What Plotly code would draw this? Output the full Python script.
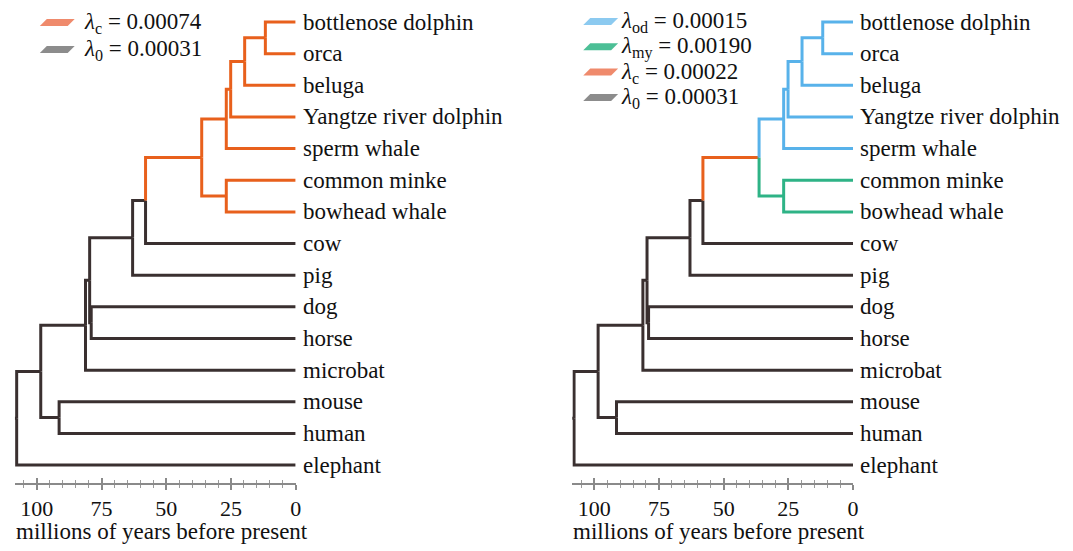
import plotly.graph_objects as go

# ---------------- data ----------------
leaves = ["bottlenose dolphin", "orca", "beluga", "Yangtze river dolphin", "sperm whale",
          "common minke", "bowhead whale", "cow", "pig", "dog", "horse", "microbat",
          "mouse", "human", "elephant"]

# internal nodes: name, age (Myr), children (top to bottom)
node_names = ["bo_orca", "beluga_grp", "yangtze_grp", "odontoceti", "mysticeti", "cetacea",
              "cet_cow", "artiodactyla", "dog_horse", "fereuungulata", "laurasiatheria",
              "euarchontoglires", "boreoeutheria", "root"]
node_ages = [11.7, 19.7, 25.1, 26.8, 26.8, 36.3, 58.0, 63.0, 79.0, 79.6, 81.2, 91.4, 98.5, 107.8]
node_children = [
    ["bottlenose dolphin", "orca"],
    ["bo_orca", "beluga"],
    ["beluga_grp", "Yangtze river dolphin"],
    ["yangtze_grp", "sperm whale"],
    ["common minke", "bowhead whale"],
    ["odontoceti", "mysticeti"],
    ["cetacea", "cow"],
    ["cet_cow", "pig"],
    ["dog", "horse"],
    ["artiodactyla", "dog_horse"],
    ["fereuungulata", "microbat"],
    ["mouse", "human"],
    ["laurasiatheria", "euarchontoglires"],
    ["boreoeutheria", "elephant"],
]
root_stub_age = 108.8

# rate regimes (clades whose stem branch starts the regime)
left_regime_roots = {"cetacea": "c"}
right_regime_roots = {"cetacea": "c", "odontoceti": "od", "mysticeti": "my"}

left_legend = [("c", "0.00074"), ("0", "0.00031")]
right_legend = [("od", "0.00015"), ("my", "0.00190"), ("c", "0.00022"), ("0", "0.00031")]

tick_vals = [100, 75, 50, 25, 0]
tick_text = ["100", "75", "50", "25", "0"]

# ---------------- styles ----------------
line_colors = {"0": "#3a3030", "c": "#e8601c", "od": "#58b2ea", "my": "#2eb386"}
swatch_colors = {"0": "#8c8c8c", "c": "#ef8a6c", "od": "#8ccaf0", "my": "#4cbf96"}
FONT = "Liberation Serif, Times, serif"
OFF = 8                       # page body margin
W, H = 1073 - OFF, 551 - OFF  # figure size


def px(x):
    return (x - OFF) / W


def py(y):
    return 1 - (y - OFF) / H


# ---------------- tree layout ----------------
ages = {n: a for n, a in zip(node_names, node_ages)}
children = {n: c for n, c in zip(node_names, node_children)}
for lf in leaves:
    ages[lf] = 0.0
ypos = {lf: i for i, lf in enumerate(leaves)}


def get_y(n):
    if n in ypos:
        return ypos[n]
    ys = [get_y(c) for c in children[n]]
    ypos[n] = (ys[0] + ys[-1]) / 2
    return ypos[n]


get_y("root")


def segments(regime_roots):
    segs = {}

    def walk(n, regime):
        for c in children.get(n, []):
            r = regime_roots.get(c, regime)
            xs, ys = segs.setdefault(r, ([], []))
            xs += [ages[n], ages[n], ages[c], None]
            ys += [ypos[n], ypos[c], ypos[c], None]
            walk(c, r)

    xs, ys = segs.setdefault("0", ([], []))
    xs += [root_stub_age, ages["root"], None]
    ys += [ypos["root"], ypos["root"], None]
    walk("root", "0")
    return segs


fig = go.Figure()

panels = [
    dict(xa="x", ya="y", dom=(15, 297), regimes=left_regime_roots, legend=left_legend,
         sw_x=40, txt_x=82, leg_y0=22, leg_dy=27),
    dict(xa="x2", ya="y2", dom=(575, 857), regimes=right_regime_roots, legend=right_legend,
         sw_x=586, txt_x=622, leg_y0=21, leg_dy=25.3),
]

px_per_unit = 31.65
y_top_px = 22
axis_px = 483
y_lo = 14 + (axis_px - (y_top_px + 14 * px_per_unit)) / px_per_unit
y_hi = -(y_top_px - OFF) / px_per_unit

annotations = []
shapes = []
for k, p in enumerate(panels):
    segs = segments(p["regimes"])
    for r in ["0", "c", "my", "od"]:
        if r in segs:
            xs, ys = segs[r]
            fig.add_trace(go.Scatter(x=xs, y=ys, mode="lines", xaxis=p["xa"], yaxis=p["ya"],
                                     line=dict(color=line_colors[r], width=3),
                                     hoverinfo="skip", showlegend=False))
    # leaf labels
    for lf in leaves:
        annotations.append(dict(x=0, y=ypos[lf], xref=p["xa"], yref=p["ya"], text=lf,
                                showarrow=False, xanchor="left", yanchor="middle", xshift=5,
                                font=dict(family=FONT, size=23, color="#111")))
    # axis title
    annotations.append(dict(x=px(p["dom"][0] - 5 + (315 - 10) / 2), y=py(531),
                            xref="paper", yref="paper", text="millions of years before present",
                            showarrow=False, xanchor="center", yanchor="middle",
                            font=dict(family=FONT, size=23, color="#111")))
    # legend
    for j, (sub, val) in enumerate(p["legend"]):
        yc = p["leg_y0"] + j * p["leg_dy"]
        x0 = p["sw_x"]
        pts = [(x0, yc + 4), (x0 + 28, yc + 4), (x0 + 35, yc - 3), (x0 + 7, yc - 3)]
        path = "M " + " L ".join(f"{px(a):.5f},{py(b):.5f}" for a, b in pts) + " Z"
        shapes.append(dict(type="path", path=path, xref="paper", yref="paper",
                           fillcolor=swatch_colors[sub], line=dict(width=0)))
        annotations.append(dict(x=px(p["txt_x"]), y=py(yc + 1), xref="paper", yref="paper",
                                text=f"<i>λ</i><sub>{sub}</sub> = {val}", showarrow=False,
                                xanchor="left", yanchor="middle",
                                font=dict(family=FONT, size=23, color="#111")))

rng = [(panels[0]["dom"][1] - panels[0]["dom"][0]) / 2.6, 0]

axis_common = dict(range=rng, showgrid=False, zeroline=False, showline=True, linecolor="#8a8a8a",
                   linewidth=1.5, tickmode="array", tickvals=tick_vals, ticktext=tick_text,
                   ticks="outside", ticklen=5, tickwidth=1.5, tickcolor="#8a8a8a",
                   tickfont=dict(family=FONT, size=22, color="#111"),
                   minor=dict(dtick=5, tick0=0, ticks="outside", ticklen=3, tickwidth=1,
                              tickcolor="#9a9a9a", showgrid=False),
                   fixedrange=True)
overlay_common = dict(range=rng, showgrid=False, zeroline=False, showline=False,
                      tickmode="array", tickvals=tick_vals, showticklabels=False,
                      ticks="inside", ticklen=5, tickwidth=1.5, tickcolor="#8a8a8a",
                      minor=dict(dtick=5, tick0=0, ticks="inside", ticklen=3, tickwidth=1,
                                 tickcolor="#9a9a9a", showgrid=False),
                      fixedrange=True)
yaxis_common = dict(range=[y_lo, y_hi], domain=[py(axis_px), 1], visible=False, fixedrange=True)

d0 = [px(panels[0]["dom"][0]), px(panels[0]["dom"][1])]
d1 = [px(panels[1]["dom"][0]), px(panels[1]["dom"][1])]

# invisible traces for overlay axes (upper half of crossing ticks)
fig.add_trace(go.Scatter(x=[0], y=[0], xaxis="x3", yaxis="y", mode="markers",
                         marker=dict(opacity=0), hoverinfo="skip", showlegend=False))
fig.add_trace(go.Scatter(x=[0], y=[0], xaxis="x4", yaxis="y2", mode="markers",
                         marker=dict(opacity=0), hoverinfo="skip", showlegend=False))

fig.update_layout(
    width=W, height=H,
    margin=dict(l=0, r=0, t=0, b=0),
    paper_bgcolor="white", plot_bgcolor="white",
    font=dict(family=FONT, color="#111"),
    xaxis=dict(domain=d0, anchor="y", **axis_common),
    xaxis2=dict(domain=d1, anchor="y2", **axis_common),
    xaxis3=dict(domain=d0, anchor="y", overlaying="x", side="bottom", **overlay_common),
    xaxis4=dict(domain=d1, anchor="y2", overlaying="x2", side="bottom", **overlay_common),
    yaxis=dict(anchor="x", **yaxis_common),
    yaxis2=dict(anchor="x2", **yaxis_common),
    annotations=annotations,
    shapes=shapes,
    showlegend=False,
)

fig.write_html("out.html")
